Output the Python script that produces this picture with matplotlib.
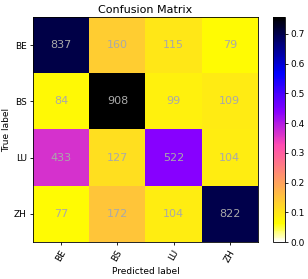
import numpy as np
import matplotlib
matplotlib.use("Agg")
import matplotlib.pyplot as plt

classes = ["BE", "BS", "LU", "ZH"]
counts = np.array([
    [837, 160, 115, 79],
    [84, 908, 99, 109],
    [433, 127, 522, 104],
    [77, 172, 104, 822],
])
norm = counts / counts.sum(axis=1, keepdims=True)

fig = plt.figure(figsize=(3.08, 2.79), dpi=100)
ax = fig.add_axes([33/308, 1-242/279, 225/308, 225/279])
cax = fig.add_axes([273/308, 1-242/279, 12/308, 225/279])
im = ax.imshow(norm, cmap="gnuplot2_r", vmin=0, vmax=norm.max(), aspect="auto")
cb = fig.colorbar(im, cax=cax)
cb.ax.tick_params(labelsize=6.5, length=2.5, width=0.6, pad=1.5)
cb.outline.set_linewidth(0.6)
ax.set_title("Confusion Matrix", fontsize=8, pad=3)
ax.set_xticks(range(4))
ax.set_xticklabels(classes, rotation=60, fontsize=6.5)
ax.set_yticks(range(4))
ax.set_yticklabels(classes, fontsize=6.5)
ax.tick_params(length=2.5, width=0.6, pad=2)
for s in ax.spines.values():
    s.set_linewidth(0.6)
ax.set_xlabel("Predicted label", fontsize=6.5, labelpad=2)
ax.set_ylabel("True label", fontsize=6.5, labelpad=2)
for i in range(4):
    for j in range(4):
        ax.text(j, i, str(counts[i, j]), ha="center", va="center", color="darkgray", fontsize=8)
fig.savefig("out.png", dpi=100)
